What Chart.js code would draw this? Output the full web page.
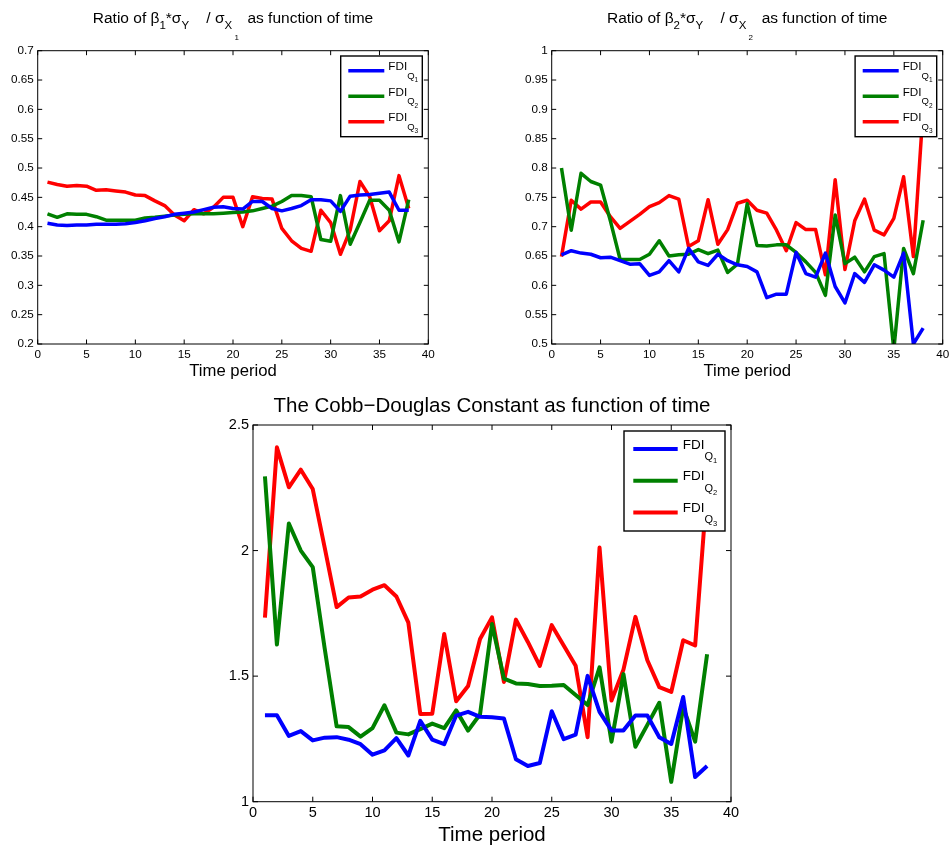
<!DOCTYPE html>
<html>
<head>
<meta charset="utf-8">
<script src="https://cdn.jsdelivr.net/npm/chart.js@4.4.1/dist/chart.umd.min.js"></script>
<style>
html, body { margin: 0; padding: 0; background: #fff; overflow: hidden; width: 951px; height: 848px; }
.box { position: absolute; }
canvas { display: block; }
</style>
</head>
<body>
<div class="box" style="left:0;top:0;width:480px;height:385px"><canvas id="c1" width="480" height="385"></canvas></div>
<div class="box" style="left:480px;top:0;width:480px;height:385px"><canvas id="c2" width="480" height="385"></canvas></div>
<div class="box" style="left:200px;top:385px;width:560px;height:463px"><canvas id="c3" width="560" height="463"></canvas></div>
<script>
// ---------------- DATA ----------------
const periods = [1,2,3,4,5,6,7,8,9,10,11,12,13,14,15,16,17,18,19,20,21,22,23,24,25,26,27,28,29,30,31,32,33,34,35,36,37,38];

// Ratio of beta1*sigmaY/sigmaX1
const beta1Q1 = [0.406,0.403,0.402,0.403,0.403,0.404,0.404,0.404,0.405,0.407,0.410,0.414,0.417,0.421,0.423,0.425,0.429,0.433,0.434,0.431,0.430,0.443,0.443,0.431,0.427,0.431,0.436,0.446,0.446,0.444,0.426,0.452,0.454,0.455,0.457,0.459,0.428,0.428];
const beta1Q2 = [0.422,0.416,0.422,0.421,0.421,0.417,0.411,0.411,0.411,0.411,0.415,0.416,0.418,0.420,0.421,0.422,0.422,0.422,0.423,0.424,0.425,0.427,0.431,0.435,0.443,0.453,0.453,0.451,0.378,0.375,0.453,0.370,0.407,0.445,0.445,0.428,0.374,0.446];
const beta1Q3 = [0.476,0.472,0.469,0.470,0.469,0.462,0.463,0.461,0.459,0.454,0.453,0.444,0.436,0.420,0.410,0.429,0.422,0.433,0.450,0.450,0.400,0.451,0.448,0.447,0.397,0.376,0.363,0.358,0.428,0.407,0.353,0.394,0.477,0.451,0.393,0.410,0.487,0.431];

// Ratio of beta2*sigmaY/sigmaX2
const beta2Q1 = [0.652,0.659,0.655,0.653,0.647,0.648,0.642,0.636,0.637,0.617,0.623,0.642,0.623,0.663,0.640,0.634,0.653,0.642,0.635,0.632,0.623,0.579,0.585,0.585,0.656,0.620,0.614,0.655,0.598,0.570,0.620,0.605,0.635,0.626,0.614,0.655,0.500,0.527];
const beta2Q2 = [0.800,0.694,0.791,0.777,0.771,0.710,0.644,0.644,0.644,0.653,0.676,0.650,0.652,0.653,0.661,0.654,0.660,0.622,0.636,0.739,0.668,0.667,0.669,0.669,0.656,0.640,0.622,0.583,0.720,0.637,0.648,0.623,0.649,0.654,0.490,0.663,0.620,0.711];
const beta2Q3 = [0.649,0.745,0.730,0.742,0.742,0.717,0.697,0.709,0.721,0.734,0.741,0.753,0.747,0.666,0.676,0.746,0.670,0.695,0.740,0.745,0.728,0.723,0.694,0.659,0.707,0.695,0.695,0.618,0.780,0.627,0.710,0.747,0.694,0.686,0.714,0.785,0.649,0.900];

// Cobb-Douglas constant
const cdQ1 = [1.344,1.344,1.262,1.281,1.244,1.255,1.257,1.247,1.229,1.187,1.204,1.253,1.184,1.322,1.247,1.229,1.343,1.358,1.338,1.336,1.331,1.169,1.142,1.154,1.360,1.249,1.267,1.501,1.358,1.284,1.284,1.343,1.343,1.257,1.230,1.417,1.098,1.142];
const cdQ2 = [2.295,1.626,2.108,2.000,1.934,1.610,1.300,1.297,1.259,1.293,1.384,1.275,1.268,1.289,1.311,1.293,1.364,1.283,1.348,1.708,1.490,1.471,1.469,1.461,1.462,1.465,1.425,1.385,1.535,1.239,1.508,1.219,1.306,1.394,1.079,1.376,1.239,1.587];
const cdQ3 = [1.733,2.411,2.252,2.322,2.245,2.012,1.775,1.813,1.817,1.844,1.862,1.817,1.713,1.349,1.350,1.668,1.400,1.461,1.648,1.734,1.477,1.725,1.636,1.541,1.703,1.622,1.541,1.257,2.012,1.403,1.526,1.736,1.563,1.456,1.437,1.643,1.622,2.250];

// tick labels
const xTickLabels = ['0','5','10','15','20','25','30','35','40'];
const beta1YTickLabels = ['0.2','0.25','0.3','0.35','0.4','0.45','0.5','0.55','0.6','0.65','0.7'];
const beta2YTickLabels = ['0.5','0.55','0.6','0.65','0.7','0.75','0.8','0.85','0.9','0.95','1'];
const cdYTickLabels = ['1','1.5','2','2.5'];

// series names (FDI with subscript Q and index)
const seriesMain = ['FDI','FDI','FDI'];
const seriesSub = ['Q','Q','Q'];
const seriesSubSub = ['1','2','3'];
const seriesColors = ['#0000ff','#008000','#ff0000'];

const xAxisTitle = 'Time period';
// titles as [text, level] (0 = normal, 1 = subscript, 2 = sub-subscript)
const title1 = [['Ratio of \u03B2',0],['1',1],['*\u03C3',0],['Y',1],['    / \u03C3',0],['X',1],[' 1',2],['  as function of time',0]];
const title2 = [['Ratio of \u03B2',0],['2',1],['*\u03C3',0],['Y',1],['    / \u03C3',0],['X',1],[' 2',2],['  as function of time',0]];
const title3 = [['The Cobb\u2212Douglas Constant as function of time',0]];

// ---------------- RENDERING ----------------
const FONT = "'Liberation Sans', Arial, Helvetica, sans-serif";
Chart.defaults.font.family = FONT;
Chart.defaults.color = '#000';

function drawRich(ctx, segs, x, baseY, fonts, align) {
  let total = 0;
  const widths = segs.map(([t, lv]) => {
    ctx.font = fonts[lv].size + 'px ' + FONT;
    const w = ctx.measureText(t).width;
    total += w;
    return w;
  });
  let cx = align === 'center' ? x - total / 2 : x;
  ctx.textAlign = 'left';
  ctx.textBaseline = 'alphabetic';
  ctx.fillStyle = '#000';
  segs.forEach(([t, lv], i) => {
    ctx.font = fonts[lv].size + 'px ' + FONT;
    ctx.fillText(t, cx, baseY + fonts[lv].dy);
    cx += widths[i];
  });
}

function makeDecor(cfg) {
  return {
    id: 'decor',
    afterDraw(chart) {
      const { ctx, chartArea: a, scales: { x, y } } = chart;
      ctx.save();
      ctx.strokeStyle = '#000';
      ctx.lineWidth = 1;
      const L = cfg.tickLen;
      ctx.beginPath();
      x.ticks.forEach(t => {
        const px = x.getPixelForValue(t.value);
        ctx.moveTo(px, a.bottom); ctx.lineTo(px, a.bottom - L);
        ctx.moveTo(px, a.top); ctx.lineTo(px, a.top + L);
      });
      y.ticks.forEach(t => {
        const py = y.getPixelForValue(t.value);
        ctx.moveTo(a.left, py); ctx.lineTo(a.left + L, py);
        ctx.moveTo(a.right, py); ctx.lineTo(a.right - L, py);
      });
      ctx.stroke();
      ctx.strokeRect(a.left, a.top, a.right - a.left, a.bottom - a.top);

      // title
      drawRich(ctx, cfg.title, (a.left + a.right) / 2, cfg.titleY, cfg.titleFonts, 'center');

      // legend
      const lg = cfg.legend;
      const bx = a.right - lg.right - lg.w;
      const by = a.top + lg.top;
      ctx.fillStyle = '#fff';
      ctx.fillRect(bx, by, lg.w, lg.h);
      ctx.lineWidth = 1.4;
      ctx.strokeStyle = '#000';
      ctx.strokeRect(bx, by, lg.w, lg.h);
      chart.data.datasets.forEach((ds, i) => {
        const yy = by + lg.row0 + i * lg.gap;
        ctx.strokeStyle = ds.borderColor;
        ctx.lineWidth = ds.borderWidth;
        ctx.lineCap = 'butt';
        ctx.beginPath();
        ctx.moveTo(bx + lg.l0, yy);
        ctx.lineTo(bx + lg.l1, yy);
        ctx.stroke();
        drawRich(ctx, [[seriesMain[i],0],[seriesSub[i],1],[seriesSubSub[i],2]], bx + lg.tx, yy - 0.5, lg.fonts, 'left');
      });
      ctx.restore();
    }
  };
}

function makeChart(id, cfg) {
  const datasets = cfg.series.map((vals, i) => ({
    label: seriesMain[i] + '_' + seriesSub[i] + seriesSubSub[i],
    data: periods.map((p, k) => ({ x: p, y: vals[k] })),
    borderColor: seriesColors[i],
    backgroundColor: seriesColors[i],
    borderWidth: cfg.lw,
    pointRadius: 0,
    tension: 0,
    fill: false,
    borderJoinStyle: 'round'
  }));
  return new Chart(document.getElementById(id), {
    type: 'line',
    data: { datasets },
    options: {
      responsive: false,
      animation: false,
      devicePixelRatio: 1,
      events: [],
      layout: { padding: cfg.pad },
      plugins: { legend: { display: false }, title: { display: false }, tooltip: { enabled: false } },
      scales: {
        x: {
          type: 'linear', min: 0, max: 40,
          grid: { display: false, drawTicks: false },
          border: { display: false },
          afterBuildTicks: s => { s.ticks = xTickLabels.map(l => ({ value: parseFloat(l) })); },
          ticks: { callback: (v, i) => xTickLabels[i], font: { size: cfg.tickFont }, padding: cfg.xPad, maxRotation: 0, autoSkip: false },
          title: { display: true, text: xAxisTitle, font: { size: cfg.xTitleFont }, padding: { top: 0, bottom: cfg.xTitlePad } },
          afterFit: s => { s.height = cfg.xH; }
        },
        y: {
          type: 'linear', min: cfg.yMin, max: cfg.yMax,
          grid: { display: false, drawTicks: false },
          border: { display: false },
          afterBuildTicks: s => { s.ticks = cfg.yLabels.map(l => ({ value: parseFloat(l) })); },
          ticks: { callback: (v, i) => cfg.yLabels[i], font: { size: cfg.tickFont }, padding: 4, autoSkip: false },
          afterFit: s => { s.width = cfg.yW; }
        }
      }
    },
    plugins: [makeDecor(cfg)]
  });
}

const smallFonts = [{ size: 15.5, dy: 0 }, { size: 11.5, dy: 5.5 }, { size: 8, dy: 16.5 }];
const smallLegend = { right: 6, top: 5.3, w: 81.6, h: 80.7, row0: 14.7, gap: 25.5, l0: 7.6, l1: 43.6, tx: 47.6,
  fonts: [{ size: 11.7, dy: 0 }, { size: 9.5, dy: 8.5 }, { size: 6.5, dy: 12 }] };

makeChart('c1', {
  series: [beta1Q1, beta1Q2, beta1Q3], yLabels: beta1YTickLabels, yMin: 0.2, yMax: 0.7,
  lw: 3.5, tickFont: 11.7, xPad: 4.2, xTitleFont: 16.7, xTitlePad: 3.8, xH: 41, yW: 37.7,
  pad: { left: 0, top: 50.7, right: 51.7, bottom: 0 }, tickLen: 4.5,
  title: title1, titleY: 23.3, titleFonts: smallFonts, legend: smallLegend
});

makeChart('c2', {
  series: [beta2Q1, beta2Q2, beta2Q3], yLabels: beta2YTickLabels, yMin: 0.5, yMax: 1,
  lw: 3.5, tickFont: 11.7, xPad: 4.2, xTitleFont: 16.7, xTitlePad: 3.8, xH: 41, yW: 71.7,
  pad: { left: 0, top: 50.7, right: 17.3, bottom: 0 }, tickLen: 4.5,
  title: title2, titleY: 23.3, titleFonts: smallFonts, legend: smallLegend
});

makeChart('c3', {
  series: [cdQ1, cdQ2, cdQ3], yLabels: cdYTickLabels, yMin: 1, yMax: 2.5,
  lw: 4, tickFont: 14.5, xPad: 2.9, xTitleFont: 20.5, xTitlePad: 0.8, xH: 46.3, yW: 53,
  pad: { left: 0, top: 40, right: 29, bottom: 0 }, tickLen: 5,
  title: title3, titleY: 26.7, titleFonts: [{ size: 20.5, dy: 0 }],
  legend: { right: 6, top: 6, w: 101, h: 100, row0: 18, gap: 31.7, l0: 9.3, l1: 53.7, tx: 58.7,
    fonts: [{ size: 13.5, dy: 0 }, { size: 11, dy: 11.5 }, { size: 7.5, dy: 14.5 }] }
});
</script>
</body>
</html>
